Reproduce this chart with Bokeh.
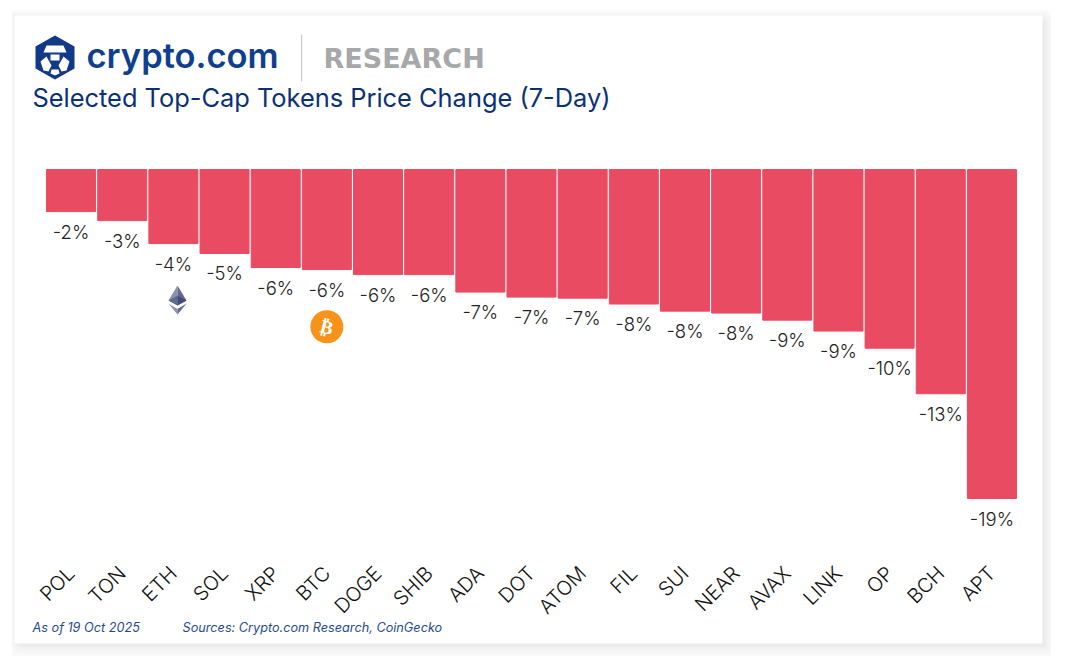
from bokeh.plotting import figure
from bokeh.models import Range1d, FactorRange, Label, PolyAnnotation, ColumnDataSource
from bokeh.core.properties import value
from bokeh.embed import file_html
from bokeh.resources import INLINE

tokens = ["POL","TON","ETH","SOL","XRP","BTC","DOGE","SHIB","ADA","DOT","ATOM","FIL","SUI","NEAR","AVAX","LINK","OP","BCH","APT"]
changes = [-2.43,-2.95,-4.28,-4.85,-5.66,-5.78,-6.07,-6.07,-7.08,-7.37,-7.43,-7.77,-8.18,-8.29,-8.70,-9.33,-10.32,-12.95,-19.0]
labels = ["-2%","-3%","-4%","-5%","-6%","-6%","-6%","-6%","-7%","-7%","-7%","-8%","-8%","-8%","-9%","-9%","-10%","-13%","-19%"]

TITLE = "Selected Top-Cap Tokens Price Change (7-Day)"
W, H = 1051, 656
OX, OY = 1, 0     # where the figure's corner lands in the photographed page
ML = 11
FONT = "Inter"
PX = 17.316       # pixels per percentage point

p = figure(width=W, height=H, output_backend="svg", toolbar_location=None,
           x_range=FactorRange(factors=tokens, range_padding=0.6646, range_padding_units="absolute", factor_padding=0),
           y_range=Range1d(-(OY + H - 169) / PX, (169 - OY) / PX),
           min_border_left=ML, min_border_right=0, min_border_top=0, min_border_bottom=0)
p.outline_line_color = None
p.grid.visible = False
p.yaxis.visible = False
p.xaxis.fixed_location = -21.445
p.xaxis.axis_line_color = None
p.xaxis.major_tick_line_color = None
p.xaxis.minor_tick_line_color = None
p.xaxis.major_label_orientation = 0.785
p.xaxis.major_label_standoff = 23
p.xaxis.major_label_text_font = "Inter Light"
p.xaxis.major_label_text_font_size = "20px"
p.xaxis.major_label_text_color = "#111111"

# annotation "screen" units here run from the frame's lower-left corner
def sx(x): return x - OX - ML
def sy(y): return H - (y - OY)

def poly(pts, color, alpha=1.0, level="overlay"):
    p.add_layout(PolyAnnotation(xs=[sx(a) for a, b in pts], ys=[sy(b) for a, b in pts],
                                xs_units="screen", ys_units="screen",
                                fill_color=color, fill_alpha=alpha, line_color=None, level=level))

def rect(x0, y0, x1, y1, color, alpha=1.0, level="underlay"):
    poly([(x0, y0), (x1, y0), (x1, y1), (x0, y1)], color, alpha, level)

def label(x, y, text, size, color, style="normal", font=FONT):
    p.add_layout(Label(x=sx(x), y=sy(y), x_units="screen", y_units="screen", text=text,
                       text_font=font, text_font_size=size, text_color=color, text_font_style=style,
                       text_baseline="middle", level="overlay"))

# Card shadow, then the card
for e in range(-9, 13):
    rect(20 - e, 20 - e, 1048 + e, 648 + e, "#000000", 0.0055)
for e in range(1, 7):
    rect(15 - e, 15 - e, 1043 + e, 643 + e, "#000000", 0.003)
rect(15, 15, 1043, 643, "#ffffff")

src = ColumnDataSource(dict(x=tokens, y=changes, t=labels))
p.vbar(x="x", top=0, bottom="y", width=0.958, color="#e94b62", source=src)
p.text(x="x", y="y", text="t", source=src, y_offset=20, text_align="center", text_baseline="middle",
       text_font=value("Inter Light"), text_font_size="18.5px", text_color="#222222")

# BTC badge
btc_y = [changes[5] - 3.3]
p.scatter(x=["BTC"], y=btc_y, size=33, marker="circle", color="#f7931a", line_color=None)
p.text(x=["BTC"], y=btc_y, text=["₿"], angle=-0.25, text_align="center", text_baseline="middle",
       text_font=value("DejaVu Sans"), text_font_style="bold", text_font_size="19px", text_color="#ffffff")

# Logo hexagon and emblem
BLUE = "#103a87"
poly([(55.5,35),(75,46),(75,68),(55.5,79),(36,68),(36,46)], BLUE)
poly([(47,45),(64,45),(67,52),(44,52)], "#ffffff")
poly([(51,54),(60,54),(60,60),(51,60)], "#ffffff")
poly([(41,61),(47,56),(52,65),(49,71),(44,70)], "#ffffff")
poly([(70,61),(64,56),(59,65),(62,71),(67,70)], "#ffffff")
poly([(52,69),(59,69),(60,73),(55.5,75),(51,73)], "#ffffff")
label(87, 55, "crypto.com", "34.5px", "#103f8f", "normal", "Inter SemiBold")
poly([(301.5,34),(302.7,34),(302.7,81),(301.5,81)], "#c9c9c9")
label(324, 57.5, "RESEARCH", "27px", "#a6a8aa", "bold", "DejaVu Sans")
label(33, 97, TITLE, "25.4px", "#0a3178")
label(33, 627, "As of 19 Oct 2025", "12.7px", "#1f4a91", "italic")
label(183, 627, "Sources: Crypto.com Research, CoinGecko", "12.7px", "#1f4a91", "italic")

# ETH icon
poly([(178,285),(178,305),(169,300)], "#8a92b2")
poly([(178,285),(187,300),(178,305)], "#62688f")
poly([(169,300),(178,295),(178,305)], "#62688f")
poly([(187,300),(178,295),(178,305)], "#454a75")
poly([(169,303),(178,308.5),(178,314)], "#8a92b2")
poly([(187,303),(178,308.5),(178,314)], "#62688f")

open("out.html", "w").write(file_html(p, INLINE))
